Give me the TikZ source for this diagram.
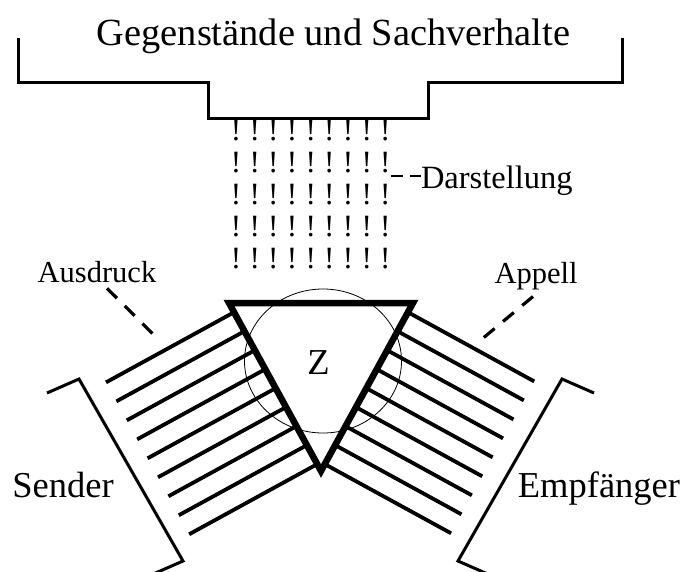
\documentclass[tikz,border=0pt]{standalone}
\usepackage{fontspec}
\setmainfont{Liberation Serif}
\usetikzlibrary{calc}
\newcommand{\fsz}[1]{\fontsize{#1}{#1}\selectfont}

\begin{document}
\begin{tikzpicture}[x=1pt,y=-1pt,
  every node/.style={inner sep=0pt,outer sep=0pt},
  lbl/.style={anchor=base,font=\fsz{30.5}},
  big/.style={anchor=base,font=\fsz{36.5}},
  ray/.style={line width=3.8pt},
  bracket/.style={line width=3pt,line join=miter},
  guide/.style={line width=3.2pt,dash pattern=on 14pt off 11pt}]
  \useasboundingbox (0,0) rectangle (685,571);
  % Gegenstaende und Sachverhalte
  \node[anchor=base,font=\fsz{38.4}] (title) at (333.5,45) {Gegenstände und Sachverhalte};
  \draw[bracket] (18,38) -- (18,82) -- (208,82) -- (208,118) -- (428,118) -- (428,82) -- (622,82) -- (622,38);
  % Darstellung
  \foreach \r in {0,...,4}
    \foreach \c in {0,...,8}
      \node[anchor=base,font=\fsz{31}] (ex-\r-\c) at (236+18.67*\c,140.7+32*\r) {!};
  \node[anchor=base west,font=\fsz{32.5}] (darst) at (421,188) {Darstellung};
  \draw[line width=2.6pt,dash pattern=on 12pt off 7pt] ([yshift=12pt]ex-1-8.base east |- darst.base) -- ([yshift=12pt]darst.base west);
  % Zeichen
  \coordinate (tl) at (229,303);
  \coordinate (tr) at (413,303);
  \coordinate (ap) at (321,471);
  \draw[line width=0.8pt] (323,361) ellipse [x radius=78.5,y radius=72];
  \foreach \k in {0,...,8} {
    \pgfmathsetmacro\tpos{0.055+0.113*\k}
    \coordinate (sl\k) at ($(tl)!\tpos!(ap)$);
    \coordinate (sr\k) at ($(tr)!\tpos!(ap)$);
    \draw[ray] (sl\k) -- ($(sl\k)!146pt!-90:(ap)$);
    \draw[ray] (sr\k) -- ($(sr\k)!144pt!90:(ap)$);
  }
  \draw[line width=6.5pt,line join=miter] (tl) -- (tr) -- (ap) -- cycle;
  \node[big] (z) at (318.5,374) {Z};
  % Ausdruck / Appell
  \node[lbl] (ausdr) at (97,282) {Ausdruck};
  \node[lbl] (appell) at (536,283) {Appell};
  \coordinate (ausdr-end) at (158,339);
  \coordinate (appell-end) at (482,339);
  \draw[guide] ([shift={(10,6)}]ausdr.south) -- (ausdr-end);
  \draw[guide] ([shift={(-3,7)}]appell.south) -- (appell-end);
  % Sender / Empfaenger
  \draw[bracket] (47,393) -- (79,379) -- (183,561) -- (151,575);
  \draw[bracket] (594,393) -- (562,379) -- (458,561) -- (490,575);
  \node[big] (sender) at (63,497) {Sender};
  \node[big] (empf) at (599,497) {Empfänger};
\end{tikzpicture}
\end{document}
